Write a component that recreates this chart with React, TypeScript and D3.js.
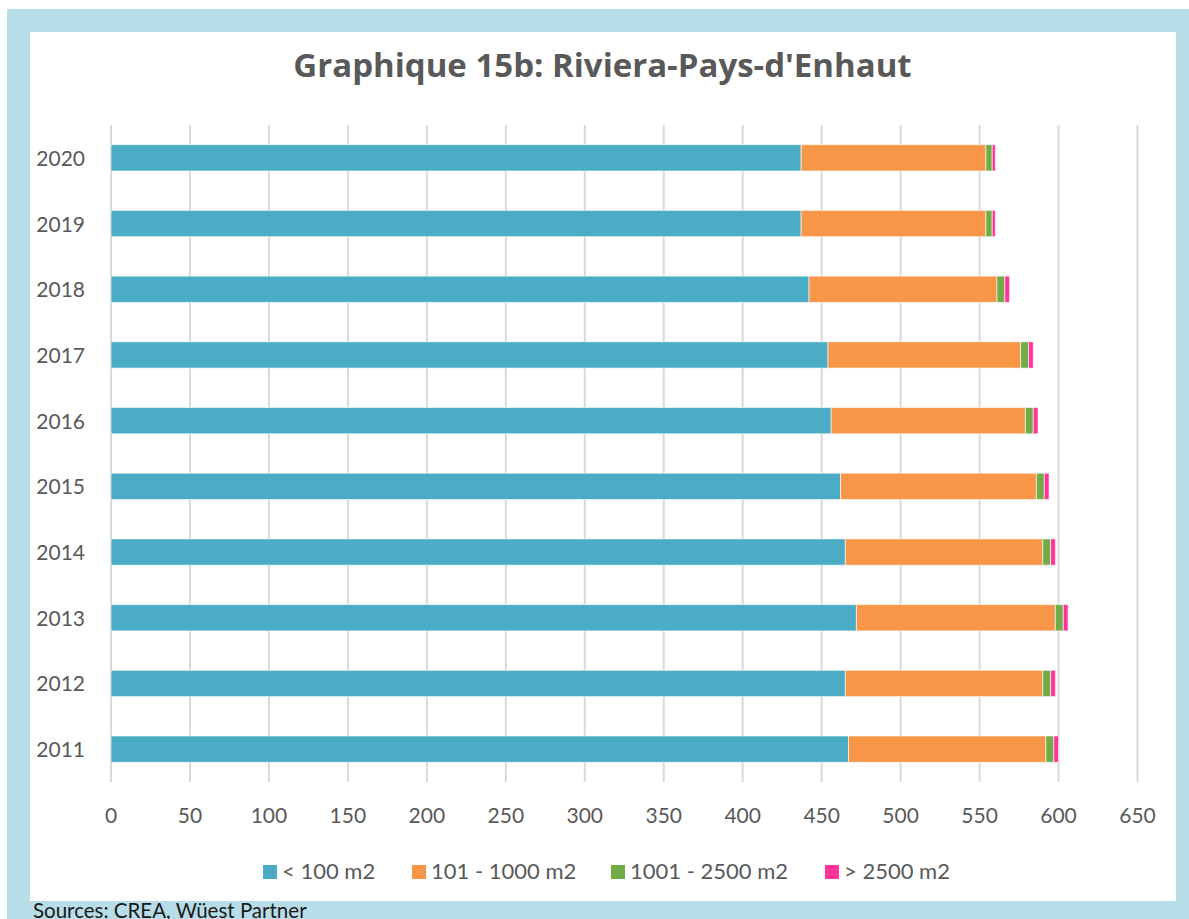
import React from "react";
import * as d3 from "d3";

const years = ["2020", "2019", "2018", "2017", "2016", "2015", "2014", "2013", "2012", "2011"];
const seriesNames = ["< 100 m2", "101 - 1000 m2", "1001 - 2500 m2", "> 2500 m2"];
const seriesColors = ["#4bacc6", "#f79646", "#70ad47", "#ff3399"];
const small = [437, 437, 442, 454, 456, 462, 465, 472, 465, 467];
const medium = [117, 117, 119, 122, 123, 124, 125, 126, 125, 125];
const large = [4, 4, 5, 5, 5, 5, 5, 5, 5, 5];
const xlarge = [2, 2, 3, 3, 3, 3, 3, 3, 3, 3];
const xTicks = [0, 50, 100, 150, 200, 250, 300, 350, 400, 450, 500, 550, 600, 650];

const W = 1189;
const H = 919;
const FONT = "Lato, 'Open Sans', sans-serif";
const TITLE_FONT = "'Open Sans', Lato, sans-serif";

export default function App() {
  const x = d3.scaleLinear().domain([0, 650]).range([111, 1137.5]);
  const y = d3.scaleBand().domain(years).range([125, 782]).paddingInner(0.6).paddingOuter(0.3);
  const rows = years.map((yr, i) => ({ year: yr, v0: small[i], v1: medium[i], v2: large[i], v3: xlarge[i] }));
  const stack = d3.stack<any>().keys(["v0", "v1", "v2", "v3"])(rows);

  const legendX = [263, 412, 611, 825];

  return (
    <svg width={W} height={H} style={{ position: "absolute", left: 0, top: 0 }}>
      <rect x={7} y={9} width={W - 7} height={H - 9} fill="#b7dde8" />
      <rect x={30} y={32} width={1146} height={869} fill="#ffffff" />
      <text x={602.5} y={77} textAnchor="middle" fontFamily={TITLE_FONT} fontWeight="bold" fontSize={33} fill="#595959">
        Graphique 15b: Riviera-Pays-d'Enhaut
      </text>
      {xTicks.map((t) => (
        <g key={t}>
          <line x1={x(t)} x2={x(t)} y1={125} y2={782} stroke="#d9d9d9" strokeWidth={2} />
          <text x={x(t)} y={823} textAnchor="middle" fontFamily={FONT} fontSize={21} fill="#595959">
            {t}
          </text>
        </g>
      ))}
      {stack.map((layer, si) => (
        <g key={si} fill={seriesColors[si]}>
          {layer.map((d, i) => (
            <rect
              key={i}
              x={x(d[0])}
              y={y(years[i])}
              width={x(d[1]) - x(d[0])}
              height={y.bandwidth()}
              stroke="#ffffff"
              strokeOpacity={0.6}
              strokeWidth={1}
            />
          ))}
        </g>
      ))}
      {years.map((yr) => (
        <text key={yr} x={85} y={(y(yr) as number) + y.bandwidth() / 2 + 8} textAnchor="end" fontFamily={FONT} fontSize={21} fill="#595959">
          {yr}
        </text>
      ))}
      {seriesNames.map((n, i) => (
        <g key={n}>
          <rect x={legendX[i]} y={865} width={14} height={14} fill={seriesColors[i]} />
          <text x={legendX[i] + 19} y={879} fontFamily={FONT} fontSize={22} fill="#595959">
            {n}
          </text>
        </g>
      ))}
      <text x={33} y={918} fontFamily={FONT} fontSize={20.5} fill="#1a1a1a">
        Sources: CREA, Wüest Partner
      </text>
    </svg>
  );
}
